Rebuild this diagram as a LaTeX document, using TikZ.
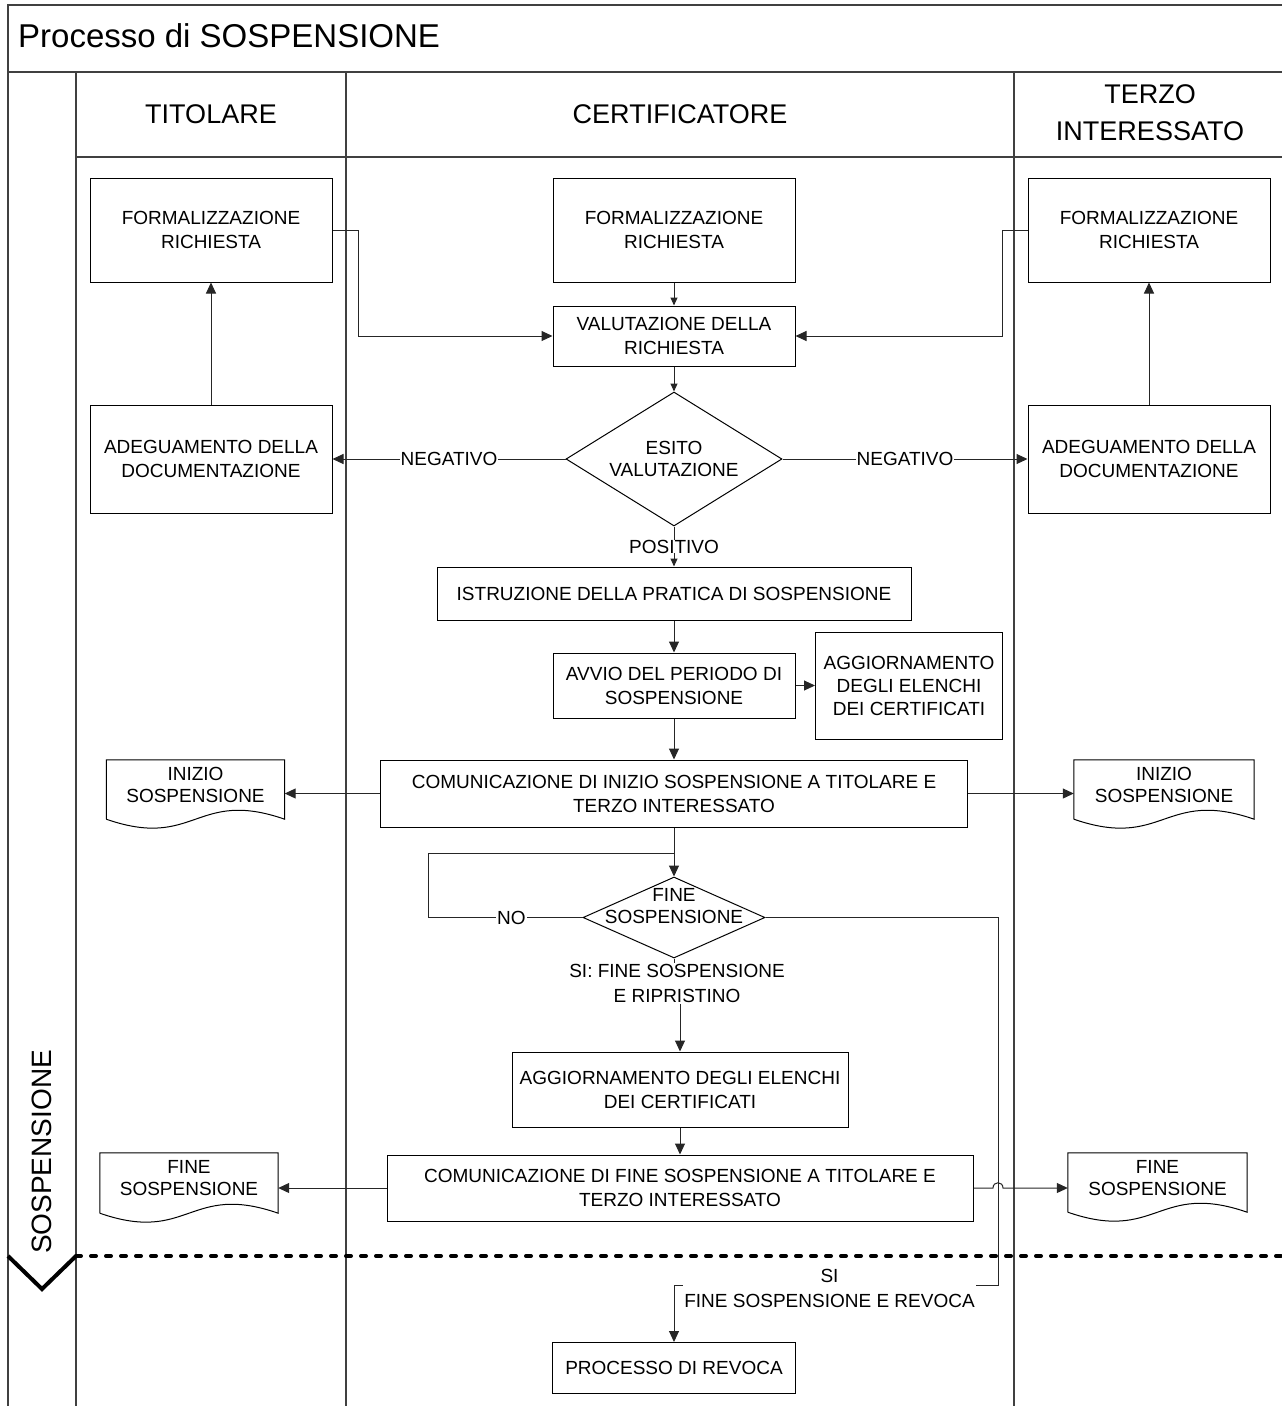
\documentclass[tikz,border=0pt]{standalone}
\usepackage{fontspec}
\setmainfont{Liberation Sans}
\usetikzlibrary{shapes.geometric,arrows.meta,calc}
\newcommand{\docshape}[1]{\draw[line width=1pt] (#1.south west) -- (#1.north west) -- (#1.north east) -- (#1.south east) .. controls ($(#1.south)+(0,-31)$) and ($(#1.south)+(0,31)$) .. (#1.south west);}
\begin{document}
\begin{tikzpicture}[x=1pt,y=-1pt,
  lane/.style={draw=black!75, line width=2pt},
  box/.style={draw=black, line width=1pt, rectangle, align=center, inner sep=0pt, font=\fontsize{19}{24}\selectfont},
  lbl/.style={fill=white, inner sep=1pt, align=center, font=\fontsize{19}{24}\selectfont},
  conn/.style={draw=black!85, line width=1pt},
  arr/.style={conn, -{Triangle[length=11pt,width=10pt]}},
  sarr/.style={conn, -{Triangle[length=8pt,width=7pt]}},
  hdr/.style={font=\fontsize{27}{37}\selectfont, align=center, inner sep=0pt},
  docn/.style={align=center, inner sep=0pt, font=\fontsize{19}{22}\selectfont},
  doctext/.style={docn, text depth=10pt},
]
\useasboundingbox (0,0) rectangle (1282,1406);
% frame and lanes
\draw[lane] (8,1406) -- (8,5) -- (1282,5);
\draw[lane] (8,72) -- (1282,72);
\draw[lane] (76,157) -- (1282,157);
\draw[lane] (76,72) -- (76,1406);
\draw[lane] (346,72) -- (346,1406);
\draw[lane] (1014,72) -- (1014,1406);
% titles
\node[anchor=base west, font=\fontsize{33}{33}\selectfont, inner sep=0pt] (title) at (18,47) {Processo di SOSPENSIONE};
\node[hdr, anchor=base] (h1) at (211,123) {TITOLARE};
\node[hdr, anchor=base] (h2) at (680,123) {CERTIFICATORE};
\node[hdr] (h3) at (1150,113) {TERZO\\INTERESSATO};
\node[rotate=90, font=\fontsize{28}{28}\selectfont, inner sep=0pt] (vlab) at (42,1152) {SOSPENSIONE};
% phase separator
\draw[line width=4pt, dash pattern=on 5pt off 10pt, line cap=round] (76,1256) -- (1282,1256);
\draw[line width=4pt] (8,1256) -- (42,1289) -- (76,1256);
% boxes
\node[box, minimum width=242pt, minimum height=104pt] (tform) at (211,230) {FORMALIZZAZIONE\\RICHIESTA};
\node[box, minimum width=242pt, minimum height=104pt] (cform) at (674,230) {FORMALIZZAZIONE\\RICHIESTA};
\node[box, minimum width=242pt, minimum height=104pt] (rform) at (1149,230) {FORMALIZZAZIONE\\RICHIESTA};
\node[box, minimum width=242pt, minimum height=60pt] (valut) at (674,336) {VALUTAZIONE DELLA\\RICHIESTA};
\node[diamond, draw, line width=1pt, minimum width=216pt, minimum height=134pt, inner sep=0pt, aspect=1.6, align=center, font=\fontsize{19}{22}\selectfont] (esito) at (674,459) {ESITO\\VALUTAZIONE};
\node[box, minimum width=242pt, minimum height=108pt] (tadeg) at (211,459) {ADEGUAMENTO DELLA\\DOCUMENTAZIONE};
\node[box, minimum width=242pt, minimum height=108pt] (radeg) at (1149,459) {ADEGUAMENTO DELLA\\DOCUMENTAZIONE};
\node[box, minimum width=474pt, minimum height=53pt] (istr) at (674,593.5) {ISTRUZIONE DELLA PRATICA DI SOSPENSIONE};
\node[box, minimum width=242pt, minimum height=65pt] (avvio) at (674,685.5) {AVVIO DEL PERIODO DI\\SOSPENSIONE};
\node[box, minimum width=187pt, minimum height=107pt, font=\fontsize{19}{23}\selectfont] (agg1) at (909,685.5) {AGGIORNAMENTO\\DEGLI ELENCHI\\DEI CERTIFICATI};
\node[box, minimum width=587pt, minimum height=67pt] (cominizio) at (674,793.5) {COMUNICAZIONE DI INIZIO SOSPENSIONE A TITOLARE E\\TERZO INTERESSATO};
\node[doctext, minimum width=178pt, minimum height=59pt] (docL1) at (195.5,789.5) {INIZIO\\SOSPENSIONE};
\node[doctext, minimum width=180pt, minimum height=59pt] (docR1) at (1164,789.5) {INIZIO\\SOSPENSIONE};
\docshape{docL1}
\docshape{docR1}
\node[diamond, draw, line width=1pt, minimum width=182pt, minimum height=81pt, inner sep=0pt] (dfine) at (674,917.5) {};
\node[docn] (dfinet) at (674,906) {FINE\\SOSPENSIONE};
\node[lbl, font=\fontsize{19}{25}\selectfont] (silbl) at (677,983.5) {SI: FINE SOSPENSIONE\\E RIPRISTINO};
\node[box, minimum width=336pt, minimum height=75pt] (agg2) at (680,1089.5) {AGGIORNAMENTO DEGLI ELENCHI\\DEI CERTIFICATI};
\node[box, minimum width=586pt, minimum height=66pt] (comfine) at (680,1188) {COMUNICAZIONE DI FINE SOSPENSIONE A TITOLARE E\\TERZO INTERESSATO};
\node[doctext, minimum width=178pt, minimum height=60pt] (docL2) at (189,1183) {FINE\\SOSPENSIONE};
\node[doctext, minimum width=179pt, minimum height=59pt] (docR2) at (1157.5,1182.5) {FINE\\SOSPENSIONE};
\docshape{docL2}
\docshape{docR2}
\node[box, minimum width=243pt, minimum height=51pt] (revoca) at (674,1368) {PROCESSO DI REVOCA};
% connectors
\coordinate (tbend) at (358,230);
\coordinate (rbend) at (1002,230);
\coordinate (loopL) at (428,853);
\coordinate (sibend) at (998,1285);
\draw[sarr] (cform.south) -- (valut.north);
\draw[arr] (tform.east) -- (tbend) |- (valut.west);
\draw[arr] (rform.west) -- (rbend) |- (valut.east);
\draw[sarr] (valut.south) -- (esito.north);
\draw[arr] (esito.west) -- node[lbl]{NEGATIVO} (tadeg.east);
\draw[arr] (esito.east) -- node[lbl]{NEGATIVO} (radeg.west);
\draw[arr] (tadeg.north) -- (tform.south);
\draw[arr] (radeg.north) -- (rform.south);
\draw[sarr] (esito.south) -- node[lbl, inner sep=0pt]{POSITIVO} (istr.north);
\draw[arr] (istr.south) -- (avvio.north);
\draw[arr] (avvio.east) -- (agg1.west);
\draw[arr] (avvio.south) -- (cominizio.north);
\draw[arr] (cominizio.west) -- (cominizio.west -| docL1.east);
\draw[arr] (cominizio.east) -- (cominizio.east -| docR1.west);
\draw[arr] (cominizio.south) -- (dfine.north);
\draw[conn] (dfine.west) -- node[lbl, pos=0.46]{NO} (dfine.west -| loopL) -- (loopL) -- (loopL -| dfine.north);
\draw[conn] (dfine.south) -- (dfine.south |- silbl.north);
\draw[arr] (silbl.south -| agg2.north) -- (agg2.north);
\draw[arr] (agg2.south) -- (comfine.north);
\draw[arr] (comfine.west) -- (comfine.west -| docL2.east);
\draw[arr] (comfine.east) -- ($(comfine.east -| sibend)+(-5,0)$) .. controls ($(comfine.east -| sibend)+(-5,-7)$) and ($(comfine.east -| sibend)+(5,-7)$) .. ($(comfine.east -| sibend)+(5,0)$) -- (comfine.east -| docR2.west);
\draw[arr] (dfine.east) -| (sibend) -- node[lbl, pos=0.52, yshift=-3pt, font=\fontsize{19}{25}\selectfont]{SI\\FINE SOSPENSIONE E REVOCA} (sibend -| revoca.north) -- (revoca.north);
\end{tikzpicture}
\end{document}
